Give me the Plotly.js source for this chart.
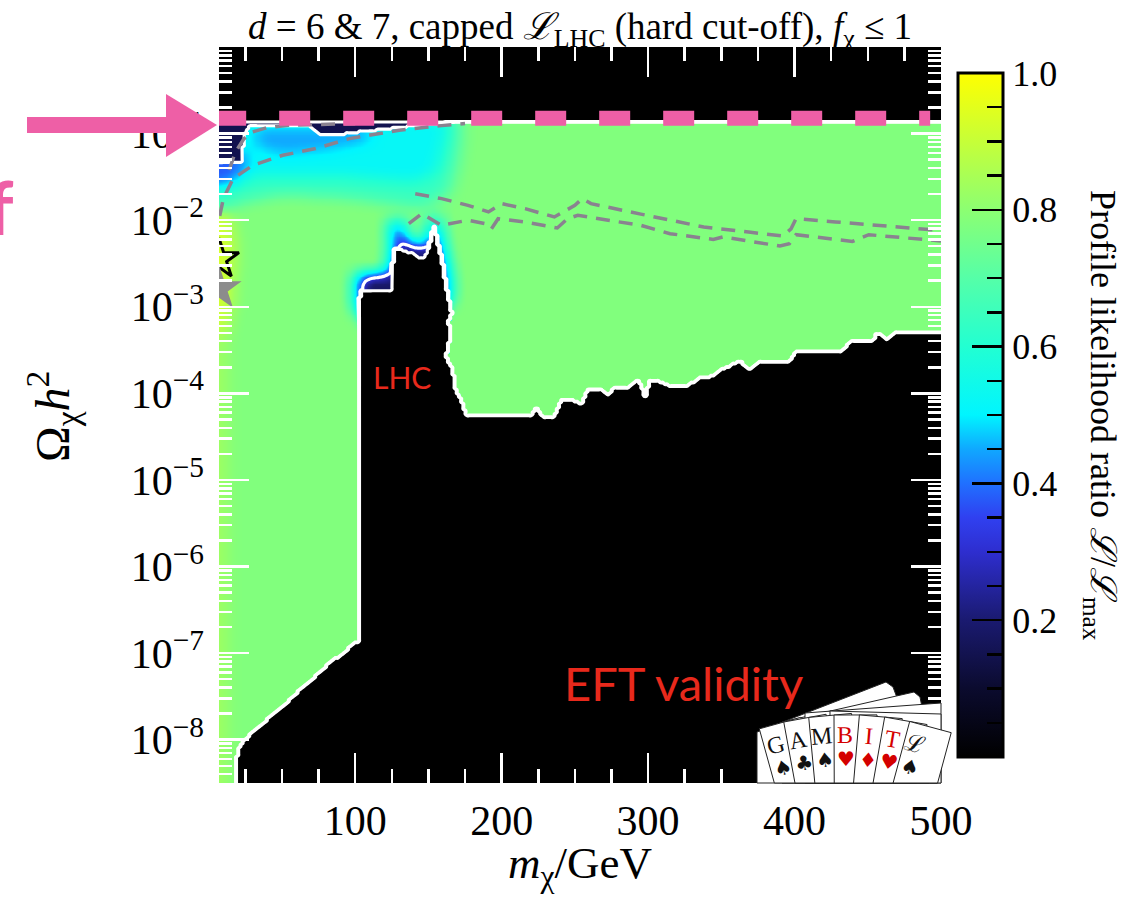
<!DOCTYPE html>
<html><head><meta charset="utf-8">
<script src="https://cdn.plot.ly/plotly-3.0.1.min.js"></script>
<style>html,body{margin:0;padding:0;background:#fff}</style>
</head><body><div id="chart" style="width:1146px;height:905px"></div>
<script>
// ---------------- values ----------------
const massRange = [7, 500];             // m_chi / GeV
const logOmegaRange = [-8.5, 0];        // log10(Omega h^2)
const xTickVals = [100, 200, 300, 400, 500];
const yTickVals = [1e-8, 1e-7, 1e-6, 1e-5, 1e-4, 1e-3, 1e-2, 1e-1];
const yTickText = ['10<sup>−8</sup>','10<sup>−7</sup>','10<sup>−6</sup>','10<sup>−5</sup>','10<sup>−4</sup>','10<sup>−3</sup>','10<sup>−2</sup>','10<sup>−1</sup>'];
const cbTickVals = [0.2, 0.4, 0.6, 0.8, 1.0];
const cbTickText = ['0.2', '0.4', '0.6', '0.8', '1.0'];
const cbMinorVals = [0.05,0.1,0.15,0.25,0.3,0.35,0.45,0.5,0.55,0.65,0.7,0.75,0.85,0.9,0.95];

// outline of the allowed (coloured) region: m / GeV and log10(Omega h^2)
const allowedM = [-5,510,510,470,463,456.4,453,438.3,432.7,401,396.5,376,369.4,362.6,349,343,335.5,326.4,315,306,301,298,294,287,283.5,276,273.4,268,259,254,248,241,235,229,223.6,220,176,173.3,168.8,167,163.7,162.6,166,163.7,166.5,162.6,160.5,158,153.6,150.5,146,140,128,126,124.5,104,102.7,102.7,100.5,89,84,73,62,50.5,40,30,24,20,19,19,-5];
const allowedLog = [-0.87,-0.87,-3.285,-3.285,-3.37,-3.293,-3.39,-3.39,-3.505,-3.505,-3.62,-3.62,-3.717,-3.62,-3.73,-3.80,-3.82,-3.91,-3.91,-3.845,-3.85,-4.025,-3.835,-3.92,-3.93,-3.93,-4.02,-3.95,-3.948,-4.121,-4.064,-4.064,-4.275,-4.275,-4.16,-4.257,-4.257,-4.10,-3.948,-3.717,-3.62,-3.56,-3.29,-3.18,-3.08,-2.79,-2.55,-2.35,-2.05,-2.3,-2.45,-2.38,-2.32,-2.35,-2.8,-2.82,-2.9,-6.85,-6.87,-7.03,-7.08,-7.26,-7.42,-7.61,-7.76,-7.91,-8.0,-8.1,-8.2,-8.7,-8.7];
const baseLikelihood = 0.78;

// shaded zones inside the allowed region (profile likelihood values)
const tealM = [-5,172,170,163,145,100,50,20,8,-5];
const tealLog = [-0.8,-0.8,-1.3,-1.7,-1.85,-1.75,-1.7,-1.8,-1.95,-2.0];
const tealZ = 0.64;
const cyanM = [-5,164,161,155,140,100,60,30,15,-5];
const cyanLog = [-0.8,-0.8,-1.1,-1.45,-1.55,-1.5,-1.48,-1.5,-1.6,-1.65];
const cyanZ = 0.52;
const lightBlueM = [30,110,110,80,50,30];
const lightBlueLog = [-0.9,-0.9,-1.1,-1.2,-1.25,-1.15];
const lightBlueZ = 0.45;
const blueM = [-5,24,24,14,-5];
const blueLog = [-1.2,-1.2,-1.4,-1.6,-1.62];
const blueZ = 0.38;
const yellowM = [-5,13,17,15,11,-5];
const yellowLog = [-1.85,-1.9,-2.3,-2.9,-3.3,-3.3];
const yellowZ = 0.93;
const leftEdgeM = [-5,11,11,-5];
const leftEdgeLog = [-3.3,-3.3,-8.7,-8.7];
const leftEdgeZ = 0.85;
const navyLhcM = [100.8,100.8,123.5,125.3,130.5,134,147,150.5,153.6,156.5,160,163.5,164.5,150,110];
const navyLhcLog = [-3.0,-2.6,-2.6,-2.0,-1.97,-2.2,-2.33,-2.1,-1.86,-2.05,-2.35,-2.65,-2.9,-3.2,-3.2];
const navyLhcZ = 0.18;
const navyTopM = [-5,165,160,140,120,100,85,76,72,68,28,24.5,22.5,-5];
const navyTopLog = [-0.8,-0.8,-0.885,-0.91,-0.95,-0.985,-1.02,-1.0,-0.95,-0.905,-0.905,-1.0,-1.32,-1.32];
const navyTopZ = 0.15;

// grey dashed contours
const dashAM = [14,18,24,30,40,55,75,100];
const dashALog = [-1.42,-1.22,-1.06,-0.98,-0.93,-0.905,-0.895,-0.885];
const dashBM = [7.5,10,16.6,30,50.5,73,96,130,159,175];
const dashBLog = [-1.95,-1.75,-1.52,-1.367,-1.25,-1.173,-1.058,-0.962,-0.908,-0.884];
const dashCM = [141,148,159,177,191,200,216,236,250,255,261,295,338,370,392,397.6,401,428,462,500];
const dashCLog = [-1.694,-1.72,-1.751,-1.829,-1.905,-1.809,-1.867,-1.963,-1.829,-1.751,-1.809,-1.93,-2.079,-2.14,-2.183,-2.1,-1.983,-2.02,-2.067,-2.12];
const dashDM = [136.6,145.6,159,177,188.6,193,197.6,216,238,245,252,295,315,344.5,351,390,396.5,401,439.5,450.7,500];
const dashDLog = [-2.04,-1.925,-2.06,-2.0,-2.04,-2.10,-1.983,-2.02,-2.09,-1.983,-1.944,-2.06,-2.156,-2.222,-2.194,-2.298,-2.272,-2.168,-2.245,-2.168,-2.24];

// relic density line and best-fit markers
const relicLineM = [4.4, 492.6];
const relicLineOmega = [0.15, 0.15];
const bestFitM = [7];
const bestFitLog = [-2.79];
const meanM = [7];
const meanLog = [-2.45];

// labels
const lhcLabel = {text: 'LHC', m: 132, log: -3.81};
const eftLabel = {text: 'EFT validity', m: 324, log: -7.35};
const cardLetters = ['G','A','M','B','I','T','ℒ'];
const cardSuits = ['♠','♣','♠','♥','♦','♥','♠'];
const cardInk = ['#111','#111','#111','#d40000','#d40000','#d40000','#111'];

// ---------------- build the grid ----------------
const M_STEP = 1.5, L_STEP = 0.02;
const mGrid = []; for (let i = 0; massRange[0] + i*M_STEP <= massRange[1] + 0.6; i++) mGrid.push(+(massRange[0] + i*M_STEP).toFixed(3));
const lGrid = []; for (let j = 0; logOmegaRange[0] + j*L_STEP <= logOmegaRange[1] + 1e-9; j++) lGrid.push(+(logOmegaRange[0] + j*L_STEP).toFixed(4));
const nx = mGrid.length, ny = lGrid.length;

function inPoly(x, y, px, py) {
  let inside = false;
  for (let i = 0, j = px.length - 1; i < px.length; j = i++) {
    if (((py[i] > y) !== (py[j] > y)) && (x < (px[j]-px[i])*(y-py[i])/(py[j]-py[i]) + px[i])) inside = !inside;
  }
  return inside;
}
function bbox(px, py){return [Math.min(...px),Math.max(...px),Math.min(...py),Math.max(...py)];}

const softZones = [
  [tealM, tealLog, tealZ], [cyanM, cyanLog, cyanZ], [lightBlueM, lightBlueLog, lightBlueZ],
  [blueM, blueLog, blueZ], [yellowM, yellowLog, yellowZ], [leftEdgeM, leftEdgeLog, leftEdgeZ],
  [navyLhcM, navyLhcLog, navyLhcZ]
].map(z => ({m: z[0], l: z[1], v: z[2], b: bbox(z[0], z[1])}));
const hardZones = [[navyTopM, navyTopLog, navyTopZ]]
  .map(z => ({m: z[0], l: z[1], v: z[2], b: bbox(z[0], z[1])}));

let field = [];
for (let j = 0; j < ny; j++) {
  const row = new Float64Array(nx);
  for (let i = 0; i < nx; i++) {
    let v = baseLikelihood;
    const x = mGrid[i], y = lGrid[j];
    for (const zn of softZones) {
      if (x < zn.b[0] || x > zn.b[1] || y < zn.b[2] || y > zn.b[3]) continue;
      if (inPoly(x, y, zn.m, zn.l)) v = zn.v;
    }
    row[i] = v;
  }
  field.push(row);
}
// soften zone edges (shading gradient)
function boxBlur(f, r) {
  const h = f.length, w = f[0].length;
  let out = f.map(r0 => Float64Array.from(r0));
  for (let pass = 0; pass < 2; pass++) {
    const tmp = out.map(r0 => new Float64Array(w));
    for (let j = 0; j < h; j++) for (let i = 0; i < w; i++) {
      let s = 0, n = 0;
      for (let k = -r; k <= r; k++) { const ii = Math.min(w-1, Math.max(0, i+k)); s += out[j][ii]; n++; }
      tmp[j][i] = s/n;
    }
    const tmp2 = out.map(r0 => new Float64Array(w));
    for (let j = 0; j < h; j++) for (let i = 0; i < w; i++) {
      let s = 0, n = 0;
      for (let k = -r; k <= r; k++) { const jj = Math.min(h-1, Math.max(0, j+k)); s += tmp[jj][i]; n++; }
      tmp2[j][i] = s/n;
    }
    out = tmp2;
  }
  return out;
}
field = boxBlur(field, 4);

const zGrid = [];
for (let j = 0; j < ny; j++) {
  const row = [];
  for (let i = 0; i < nx; i++) {
    const x = mGrid[i], y = lGrid[j];
    if (!inPoly(x, y, allowedM, allowedLog)) { row.push(0); continue; }
    let v = field[j][i];
    for (const zn of hardZones) {
      if (x < zn.b[0] || x > zn.b[1] || y < zn.b[2] || y > zn.b[3]) continue;
      if (inPoly(x, y, zn.m, zn.l)) v = zn.v;
    }
    row.push(+v.toFixed(3));
  }
  zGrid.push(row);
}
const yVals = lGrid.map(l => Math.pow(10, l));
const pow10 = a => a.map(l => Math.pow(10, l));

const cscale = [[0,'#000000'],[0.1,'#0b0b2e'],[0.2,'#1a1a70'],[0.3,'#2e2ecf'],[0.35,'#3040f0'],[0.4,'#2070ff'],[0.45,'#10a8ff'],[0.5,'#00f5ff'],[0.6,'#22ffd2'],[0.7,'#55ffa8'],[0.8,'#8cff72'],[0.9,'#c6ff38'],[1.0,'#ffff00']];

// ---------------- pixel helpers for decorations ----------------
const PL = 219, PR = 941, PT = 47, PB = 783;
const pX = px => (px - PL)/(PR - PL);
const pY = py => (PB - py)/(PB - PT);
function pathFrom(pts){ return 'M' + pts.map(p => pX(p[0]).toFixed(5)+','+pY(p[1]).toFixed(5)).join('L') + 'Z'; }
function clipBelow(pts, yMax){
  const out = [];
  for (let i = 0; i < pts.length; i++) {
    const a = pts[i], b = pts[(i+1)%pts.length];
    const ain = a[1] <= yMax, bin = b[1] <= yMax;
    if (ain) out.push(a);
    if (ain !== bin) { const t = (yMax - a[1])/(b[1]-a[1]); out.push([a[0] + t*(b[0]-a[0]), yMax]); }
  }
  return out;
}

const PINK = '#ee5fa6';
const SERIF = 'Liberation Serif, serif';
const shapes = [];
const annotations = [];

// pink arrow
shapes.push({type:'path', xref:'paper', yref:'paper', layer:'above', line:{width:0}, fillcolor:PINK,
  path: pathFrom([[27,117],[168,117],[168,133],[27,133]])});
shapes.push({type:'path', xref:'paper', yref:'paper', layer:'above', line:{width:0}, fillcolor:PINK,
  path: pathFrom([[166,94],[217,125],[166,157]])});

// GAMBIT cards: back cards
const backCards = [
  [[757,732],[886,682],[893,687],[929,783],[757,783]],
  [[782,722],[914,692],[920,697],[937,783],[782,783]],
  [[805,713],[941,703],[941,783],[805,783]],
  [[830,711],[941,714],[941,783],[830,783]]
];
backCards.forEach(c => shapes.push({type:'path', xref:'paper', yref:'paper', layer:'above', fillcolor:'white', line:{color:'#222', width:1}, path: pathFrom(c)}));
// front cards fanned around a pivot
const piv = [848, 1000], R = 285;
cardLetters.forEach((L, i) => {
  const th = (-15.5 + 5.1*i)*Math.PI/180, s = Math.sin(th), c = Math.cos(th);
  const P = (u, v) => [piv[0] + u*c + v*s, piv[1] + u*s - v*c];
  const card = clipBelow([P(-13,R), P(30,R), P(30,R-300), P(-13,R-300)], PB);
  shapes.push({type:'path', xref:'paper', yref:'paper', layer:'above', fillcolor:'white', line:{color:'#222', width:1}, path: pathFrom(card)});
  const lp = P(-2, R-20), sp = P(-1, R-44);
  annotations.push({xref:'paper', yref:'paper', x:pX(lp[0]), y:pY(lp[1]), xanchor:'center', yanchor:'middle', text:L, showarrow:false, textangle:th*180/Math.PI,
    font:{family:SERIF, size:24, color:cardInk[i]}});
  annotations.push({xref:'paper', yref:'paper', x:pX(sp[0]), y:pY(sp[1]), xanchor:'center', yanchor:'middle', text:cardSuits[i], showarrow:false, textangle:th*180/Math.PI,
    font:{family:'DejaVu Sans, sans-serif', size:20, color:cardInk[i]}});
});

// text labels
annotations.push({x:lhcLabel.m, y:lhcLabel.log, xref:'x', yref:'y', xanchor:'center', yanchor:'middle', text:lhcLabel.text, showarrow:false,
  font:{family:'Lato, Noto Sans, sans-serif', size:30, color:'#e8291c'}});
annotations.push({x:eftLabel.m, y:eftLabel.log, xref:'x', yref:'y', xanchor:'center', yanchor:'middle', text:eftLabel.text, showarrow:false,
  font:{family:'Lato, Noto Sans, sans-serif', size:47, color:'#e8291c'}});
annotations.push({xref:'paper', yref:'paper', x:pX(16), y:pY(207), xanchor:'right', yanchor:'middle', text:'<b>f</b>', showarrow:false,
  font:{family:'Lato, Noto Sans, sans-serif', size:74, color:PINK}});
// colour bar title
annotations.push({xref:'paper', yref:'paper', x:pX(1101), y:0.5, xanchor:'center', yanchor:'middle', textangle:90, showarrow:false,
  text:'Profile likelihood ratio <i>ℒ</i>/<i>ℒ</i><sub>max</sub>', font:{family:SERIF, size:36, color:'black'}});
// axis titles
annotations.push({xref:'paper', yref:'paper', x:pX(580), y:pY(866), xanchor:'center', yanchor:'middle', showarrow:false,
  text:'<i>m</i><sub>χ</sub>/GeV', font:{family:SERIF, size:45, color:'black'}});
annotations.push({xref:'paper', yref:'paper', x:pX(52), y:pY(417), xanchor:'center', yanchor:'middle', textangle:-90, showarrow:false,
  text:'Ω<sub>χ</sub><i>h</i><sup>2</sup>', font:{family:SERIF, size:48, color:'black'}});

const yMinor = [];
for (let n = -9; n <= -1; n++) for (let k = 2; k <= 9; k++) { const v = k*Math.pow(10, n); if (Math.log10(v) > logOmegaRange[0]) yMinor.push(v); }

const traces = [
  {type:'heatmap', x:mGrid, y:yVals, z:zGrid, zmin:0, zmax:1, zsmooth:'best', colorscale:cscale, hoverinfo:'skip',
   colorbar:{x:pX(958), xanchor:'left', xpad:0, ypad:0, y:0.5, yanchor:'middle', thickness:45, thicknessmode:'pixels',
     len:684, lenmode:'pixels', outlinewidth:3, outlinecolor:'black', tickvals:cbTickVals, ticktext:cbTickText,
     ticks:'inside', ticklen:32, tickwidth:2.5, tickcolor:'black', tickfont:{family:SERIF, size:36}}},
  {type:'heatmap', x:[1000], y:[1e5], z:[[0.5]], zmin:0, zmax:1, hoverinfo:'skip',
   colorscale:[[0,'rgba(0,0,0,0)'],[1,'rgba(0,0,0,0)']],
   colorbar:{x:pX(958), xanchor:'left', xpad:0, ypad:0, y:0.5, yanchor:'middle', thickness:45, thicknessmode:'pixels',
     len:684, lenmode:'pixels', outlinewidth:0, tickvals:cbMinorVals, showticklabels:false,
     ticks:'inside', ticklen:16, tickwidth:2.5, tickcolor:'black'}},
  {type:'contour', x:mGrid, y:yVals, z:zGrid, showscale:false, hoverinfo:'skip',
   contours:{start:0.0455, end:0.317, size:0.2715, coloring:'none'}, line:{color:'white', width:3.2, smoothing:1}},
  {type:'scatter', mode:'lines', x:dashAM, y:pow10(dashALog), line:{color:'#8a8290', width:3.5, dash:'14px,9px'}, hoverinfo:'skip'},
  {type:'scatter', mode:'lines', x:dashBM, y:pow10(dashBLog), line:{color:'#8a8290', width:3.5, dash:'14px,9px'}, hoverinfo:'skip'},
  {type:'scatter', mode:'lines', x:dashCM, y:pow10(dashCLog), line:{color:'#8a8290', width:3.5, dash:'14px,9px'}, hoverinfo:'skip'},
  {type:'scatter', mode:'lines', x:dashDM, y:pow10(dashDLog), line:{color:'#8a8290', width:3.5, dash:'14px,9px'}, hoverinfo:'skip'},
  {type:'scatter', mode:'lines', x:relicLineM, y:relicLineOmega, cliponaxis:false, line:{color:PINK, width:15, dash:'31px,33px'}, hoverinfo:'skip'},
  {type:'scatter', mode:'markers', x:meanM, y:pow10(meanLog), marker:{symbol:'star-open', size:30, color:'black', line:{width:3, color:'black'}}, hoverinfo:'skip'},
  {type:'scatter', mode:'markers', x:bestFitM, y:pow10(bestFitLog), marker:{symbol:'star', size:34, color:'#8c8c8c', line:{width:0}}, hoverinfo:'skip'}
];

const axisCommon = {ticks:'inside', tickwidth:2.5, tickcolor:'white', mirror:'ticks', showline:false, showgrid:false, zeroline:false};
const layout = {
  width:1146, height:905, showlegend:false,
  margin:{l:PL, r:1146-PR, t:PT, b:905-PB, pad:0, autoexpand:false},
  paper_bgcolor:'white', plot_bgcolor:'black',
  font:{family:SERIF, color:'black'},
  title:{text:'<i>d</i> = 6 &amp; 7, capped <i>ℒ</i><sub>LHC</sub> (hard cut-off), <i>f</i><sub>χ</sub> ≤ 1',
    font:{size:37}, x:0.5, xref:'paper', xanchor:'center', y:1-26/905, yref:'container', yanchor:'middle'},
  xaxis:Object.assign({}, axisCommon, {range:massRange, tickmode:'array', tickvals:xTickVals, ticklen:30,
    tickfont:{size:42}, ticklabelstandoff:9,
    minor:{dtick:25, tick0:0, ticks:'inside', ticklen:14, tickwidth:2.5, tickcolor:'white'}}),
  yaxis:Object.assign({}, axisCommon, {type:'log', range:logOmegaRange, tickmode:'array', tickvals:yTickVals, ticktext:yTickText,
    ticklen:30, tickfont:{size:42}, ticklabelstandoff:14,
    minor:{tickmode:'array', tickvals:yMinor, ticks:'inside', ticklen:13, tickwidth:2.5, tickcolor:'white'}}),
  shapes:shapes, annotations:annotations
};
Plotly.newPlot('chart', traces, layout, {displayModeBar:false, staticPlot:true});
</script></body></html>
